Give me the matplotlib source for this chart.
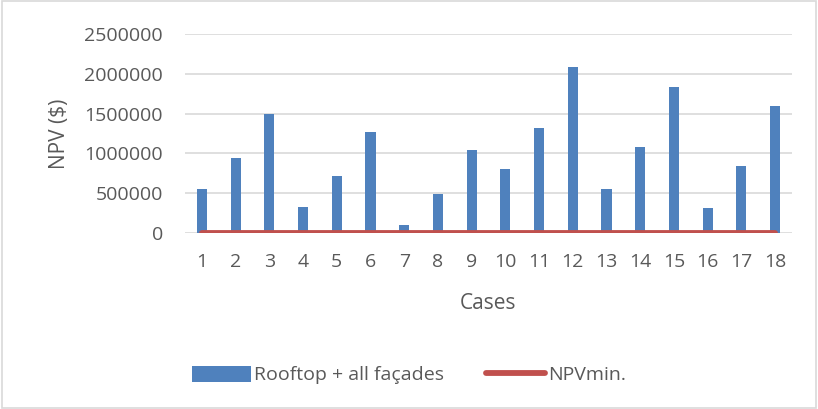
import matplotlib
matplotlib.use('Agg')
import matplotlib.pyplot as plt
from matplotlib.patches import Rectangle

# data
cases = [str(i) for i in range(1, 19)]
npv = [555000, 941000, 1495000, 329000, 720000, 1270000, 100000, 491000, 1045000,
       800000, 1325000, 2079000, 555000, 1079000, 1837000, 312000, 837000, 1591000]
npv_min = [0] * 18
yticks = [0, 500000, 1000000, 1500000, 2000000, 2500000]

plt.rcParams['font.family'] = ['Open Sans', 'DejaVu Sans']
txt = '#595959'

fig = plt.figure(figsize=(8.18, 4.09), dpi=100)
ax = fig.add_axes([185 / 818, 1 - 233.3 / 409, (792 - 185) / 818, 199.6 / 409])

x = list(range(len(cases)))
bars = ax.bar(x, npv, width=0.3, color='#4F81BD', zorder=2)
line, = ax.plot(x, npv_min, color='#C0504D', linewidth=4.2, solid_capstyle='round',
                zorder=3)

ax.set_xlim(-0.5, len(cases) - 0.5)
ax.set_ylim(0, 2500000)
ax.set_yticks(yticks)
ax.set_yticklabels([str(v) for v in yticks])
ax.set_xticks(x)
ax.set_xticklabels(cases)
ax.tick_params(axis='both', length=0, labelsize=14, colors=txt)
ax.tick_params(axis='x', pad=14)
ax.tick_params(axis='y', pad=16)
ax.grid(axis='y', color='#D9D9D9', linewidth=1.2, zorder=0)
for s in ax.spines.values():
    s.set_visible(False)

ax.set_ylabel('NPV ($)', fontsize=15, color=txt, labelpad=10)
ax.set_xlabel('Cases', fontsize=15, color=txt, labelpad=16)

leg = fig.legend([bars, line], ['Rooftop + all façades', 'NPVmin.'],
                 loc='center', bbox_to_anchor=(0.5, 1 - 375 / 409), ncol=2,
                 frameon=False, fontsize=14, handlelength=3.0, handleheight=0.9,
                 handletextpad=0.15, columnspacing=2.2)
for t in leg.get_texts():
    t.set_color(txt)

# outer chart border
fig.patches.append(Rectangle((0.003, 0.003), 0.994, 0.994, transform=fig.transFigure,
                             fill=False, edgecolor='#D9D9D9', linewidth=1.2))

fig.savefig('out.png', dpi=100)
